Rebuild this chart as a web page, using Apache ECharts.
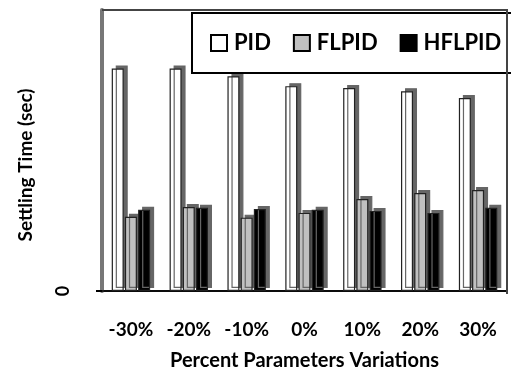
<!DOCTYPE html>
<html>
<head>
<meta charset="utf-8">
<script src="https://cdn.jsdelivr.net/npm/echarts@6/dist/echarts.min.js"></script>
<style>
  html, body { margin: 0; padding: 0; background: #fff; }
  #demo { width: 511px; height: 376px; }
</style>
</head>
<body>
<div id="demo"></div>
<script>
// 数据 (y 轴没有刻度，只按图上高度估算)
var categories = ['-30%', '-20%', '-10%', '0%', '10%', '20%', '30%'];
var pidValues = [7.92, 7.92, 7.64, 7.29, 7.22, 7.11, 6.87];
var flpidValues = [2.64, 2.99, 2.61, 2.78, 3.27, 3.49, 3.59];
var hflpidValues = [2.89, 2.96, 2.92, 2.89, 2.85, 2.78, 2.96];
var yTicks = [0];

var fontName = 'Lato';
// 绘图区位置
var gLeft = 102, gRight = 4, gTop = 10, gBottom = 82;
var W = 511, H = 376;

function barItem(fill) {
    return {
        color: fill,
        borderColor: '#222',
        borderWidth: 1.2,
        shadowColor: '#666',
        shadowBlur: 0,
        shadowOffsetX: 4,
        shadowOffsetY: -3
    };
}

var chartDom = document.getElementById('demo');
var myChart = echarts.init(chartDom);
var option;
option = {
    animation: false,
    grid: {
        left: gLeft,
        right: gRight,
        top: gTop,
        bottom: gBottom,
        show: true,
        borderColor: '#333',
        borderWidth: 2
    },
    legend: {
        left: 192,
        top: 13,
        width: 340,
        padding: [19, 30, 19, 18],
        itemWidth: 16,
        itemHeight: 16,
        itemGap: 22,
        borderColor: '#000',
        borderWidth: 2,
        backgroundColor: '#fff',
        icon: 'rect',
        itemStyle: {
            borderColor: '#000',
            borderWidth: 2,
            shadowColor: 'transparent',
            shadowOffsetX: 0,
            shadowOffsetY: 0
        },
        textStyle: {
            fontFamily: fontName,
            fontWeight: 'bold',
            fontSize: 22,
            color: '#000',
            padding: [0, 0, 0, 2]
        },
        data: ['PID', 'FLPID', 'HFLPID']
    },
    xAxis: {
        type: 'category',
        data: categories,
        name: 'Percent Parameters Variations',
        nameLocation: 'middle',
        nameGap: 60,
        nameTextStyle: {
            fontFamily: fontName,
            fontWeight: 'bold',
            fontSize: 20,
            color: '#000'
        },
        axisLine: { onZero: false, lineStyle: { color: '#000', width: 1.5 } },
        axisTick: { length: 8, lineStyle: { color: '#000', width: 2 } },
        axisLabel: {
            interval: 0,
            margin: 29,
            fontFamily: fontName,
            fontWeight: 'bold',
            fontSize: 19,
            color: '#000'
        }
    },
    yAxis: {
        type: 'value',
        min: 0,
        max: 10,
        splitLine: { show: false },
        axisLine: { show: true, onZero: false, lineStyle: { color: '#777', width: 4 } },
        axisTick: { show: true, customValues: yTicks, length: 6, lineStyle: { color: '#000', width: 2 } },
        axisLabel: {
            customValues: yTicks,
            rotate: 90,
            margin: 30,
            fontFamily: fontName,
            fontWeight: 'bold',
            fontSize: 18,
            color: '#000'
        }
    },
    graphic: [
        {
            type: 'text',
            x: 26,
            y: 165,
            rotation: Math.PI / 2,
            style: {
                text: 'Settling Time (sec)',
                fontFamily: fontName,
                fontWeight: 'bold',
                fontSize: 19,
                fill: '#000',
                align: 'center',
                verticalAlign: 'middle'
            }
        },
        {
            // 上边框和右边框
            type: 'polyline',
            z: 100,
            silent: true,
            shape: {
                points: [[gLeft, gTop], [W - gRight, gTop], [W - gRight, H - gBottom]]
            },
            style: { stroke: '#444', lineWidth: 2, fill: null }
        }
    ],
    series: [
        { name: 'PID', type: 'bar', barWidth: 12, barGap: '10%', data: pidValues, itemStyle: barItem('#ffffff') },
        { name: 'FLPID', type: 'bar', barWidth: 12, barGap: '10%', data: flpidValues, itemStyle: barItem('#c0c0c0') },
        { name: 'HFLPID', type: 'bar', barWidth: 12, barGap: '10%', data: hflpidValues, itemStyle: barItem('#000000') }
    ]
};
option && myChart.setOption(option);
</script>
</body>
</html>
